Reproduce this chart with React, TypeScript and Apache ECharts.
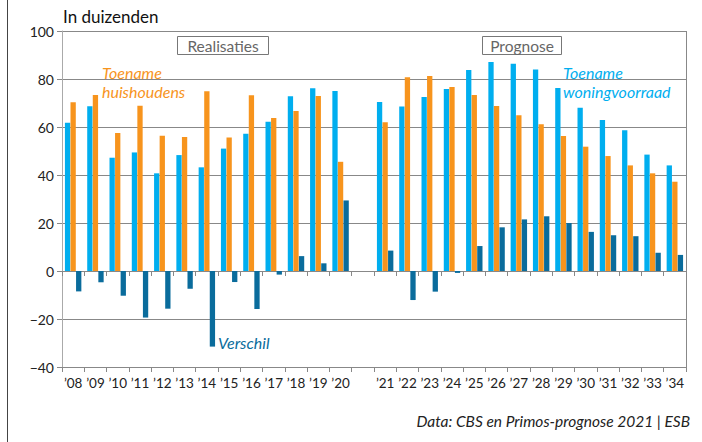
import React, { useEffect, useRef } from "react";
import * as echarts from "echarts";

const categories = [
  "’08", "’09", "’10", "’11", "’12", "’13", "’14", "’15", "’16", "’17", "’18", "’19", "’20",
  "",
  "’21", "’22", "’23", "’24", "’25", "’26", "’27", "’28", "’29", "’30", "’31", "’32", "’33", "’34",
];

const woningvoorraad: (number | null)[] = [
  61.8, 68.6, 47.2, 49.4, 40.7, 48.3, 43.2, 51.0, 57.2, 62.2, 72.8, 76.1, 75.0,
  null,
  70.4, 68.5, 72.5, 75.8, 83.8, 87.1, 86.4, 84.0, 76.3, 68.0, 62.9, 58.6, 48.5, 44.0,
];

const huishoudens: (number | null)[] = [
  70.3, 73.3, 57.5, 68.9, 56.4, 55.8, 74.9, 55.6, 73.2, 63.8, 66.7, 72.9, 45.5,
  null,
  62.0, 80.7, 81.2, 76.7, 73.3, 68.8, 64.9, 61.1, 56.3, 51.8, 47.9, 44.0, 40.7, 37.2,
];

const verschil: (number | null)[] = [
  -8.5, -4.7, -10.3, -19.4, -15.7, -7.4, -31.5, -4.6, -15.8, -1.5, 6.2, 3.2, 29.4,
  null,
  8.5, -12.1, -8.6, -0.8, 10.4, 18.2, 21.5, 22.8, 20.0, 16.3, 14.9, 14.5, 7.6, 6.7,
];

const yTicks = { min: -40, max: 100, interval: 20 };

const BLUE = "#00AEEF";
const ORANGE = "#F7941D";
const DARK = "#0A6C9C";
const FONT = "Lato";

export default function App() {
  const ref = useRef<HTMLDivElement>(null);
  useEffect(() => {
    if (!ref.current) return;
    const chart = echarts.init(ref.current, null, { renderer: "svg" });
    const bar = (name: string, data: (number | null)[], color: string) => ({
      type: "bar",
      name,
      data,
      barWidth: 5.3,
      barGap: "5%",
      itemStyle: { color },
      xAxisIndex: 0,
      yAxisIndex: 0,
    });
    chart.setOption({
      animation: false,
      textStyle: { fontFamily: FONT },
      grid: { left: 62, right: 16, top: 31, bottom: 75, containLabel: false },
      xAxis: [
        {
          type: "category",
          data: categories,
          position: "bottom",
          axisLine: { onZero: false, show: true, lineStyle: { color: "#888", width: 1 } },
          axisTick: { show: true, interval: 0, length: 5, lineStyle: { color: "#888" } },
          axisLabel: { interval: 0, fontSize: 13.5, color: "#222", margin: 9, fontFamily: FONT },
          splitLine: { show: false },
        },
        {
          type: "category",
          data: categories,
          position: "top",
          axisLine: { onZero: true, show: false },
          axisTick: { show: true, inside: true, interval: 0, length: 5, lineStyle: { color: "#888" } },
          axisLabel: { show: false },
          splitLine: { show: false },
        },
      ],
      yAxis: {
        type: "value",
        min: yTicks.min,
        max: yTicks.max,
        interval: yTicks.interval,
        axisLine: { show: true, lineStyle: { color: "#aaa" } },
        axisTick: { show: true, length: 5, lineStyle: { color: "#888" } },
        axisLabel: {
          fontSize: 14,
          color: "#222",
          margin: 8,
          fontFamily: FONT,
          formatter: (v: number) => String(v).replace("-", "−"),
        },
        splitLine: { show: true, lineStyle: { color: "#888", width: 1 } },
      },
      series: [
        bar("Toename woningvoorraad", woningvoorraad, BLUE),
        bar("Toename huishoudens", huishoudens, ORANGE),
        bar("Verschil", verschil, DARK),
      ],
      graphic: [
        { type: "line", shape: { x1: 7.5, y1: 0, x2: 7.5, y2: 442 }, style: { stroke: "#444", lineWidth: 1 } },
        { type: "line", shape: { x1: 686.5, y1: 31, x2: 686.5, y2: 367 }, style: { stroke: "#888", lineWidth: 1 } },
        {
          type: "text", left: 63, top: 8,
          style: { text: "In duizenden", fontSize: 17, fill: "#111", fontFamily: FONT },
        },
        { type: "rect", shape: { x: 177.5, y: 36.5, width: 91, height: 18 }, style: { fill: "#fff", stroke: "#777", lineWidth: 1 } },
        {
          type: "text", x: 223, y: 46,
          style: { text: "Realisaties", fontSize: 15.5, fill: "#666", fontFamily: FONT, align: "center", verticalAlign: "middle" },
        },
        { type: "rect", shape: { x: 482.5, y: 36.5, width: 79, height: 18 }, style: { fill: "#fff", stroke: "#777", lineWidth: 1 } },
        {
          type: "text", x: 522, y: 46,
          style: { text: "Prognose", fontSize: 15.5, fill: "#666", fontFamily: FONT, align: "center", verticalAlign: "middle" },
        },
        {
          type: "text", x: 102, y: 63,
          style: { text: "Toename\nhuishoudens", fontSize: 16, lineHeight: 19, fill: ORANGE, fontFamily: FONT, fontStyle: "italic" },
        },
        {
          type: "text", x: 563, y: 63,
          style: { text: "Toename\nwoningvoorraad", fontSize: 16, lineHeight: 19, fill: BLUE, fontFamily: FONT, fontStyle: "italic" },
        },
        {
          type: "text", x: 218, y: 342,
          style: { text: "Verschil", fontSize: 16, fill: DARK, fontFamily: FONT, fontStyle: "italic", verticalAlign: "middle" },
        },
        {
          type: "text", x: 690, y: 421,
          style: { text: "Data: CBS en Primos-prognose 2021 | ESB", fontSize: 15.5, fill: "#222", fontFamily: FONT, fontStyle: "italic", align: "right", verticalAlign: "middle" },
        },
      ],
    });
    return () => chart.dispose();
  }, []);
  return <div ref={ref} style={{ width: 702, height: 442, position: "absolute", left: 0, top: 0 }} />;
}
